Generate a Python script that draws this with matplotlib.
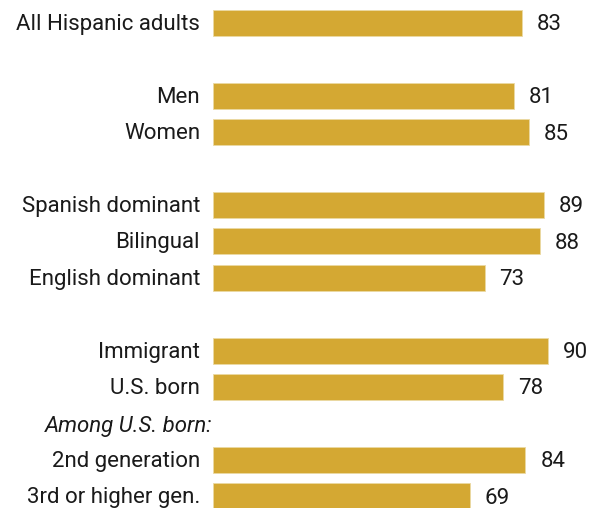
import matplotlib.pyplot as plt

plt.rcParams['font.family'] = ['Roboto', 'DejaVu Sans']

labels = ['All Hispanic adults', 'Men', 'Women', 'Spanish dominant', 'Bilingual',
          'English dominant', 'Immigrant', 'U.S. born', '2nd generation',
          '3rd or higher gen.']
values = [83, 81, 85, 89, 88, 73, 90, 78, 84, 69]
# slot index of each row (gaps between groups, slot 11 holds the subheading)
slots = [0, 2, 3, 5, 6, 7, 9, 10, 12, 13]
subhead = 'Among U.S. born:'
subhead_slot = 11

color = '#D4A833'
fs = 16

fig = plt.figure(figsize=(6.02, 5.08), dpi=100)
# axes from the bar baseline to the right edge
ax = fig.add_axes([213 / 602, 0, 389 / 602, 1])

step = 36.4
top = 23
ys = [top + s * step for s in slots]

ax.barh(ys, values, height=26, color=color, edgecolor='#EBD9A3', linewidth=0.6)
for y, v, lab in zip(ys, values, labels):
    ax.text(v + 4.0, y + 2, str(v), va='center', ha='left', fontsize=fs, color='#1a1a1a')
    ax.text(-3.5, y + 1.5, lab, va='center', ha='right', fontsize=fs, color='#1a1a1a')
ax.text(-0.2, top + subhead_slot * step + 3, subhead, va='center', ha='right',
        fontsize=fs, style='italic', color='#1a1a1a')

ax.set_xlim(0, 389 / 3.72)
ax.set_ylim(508, 0)
ax.axis('off')

fig.savefig('out.png', dpi=100)
